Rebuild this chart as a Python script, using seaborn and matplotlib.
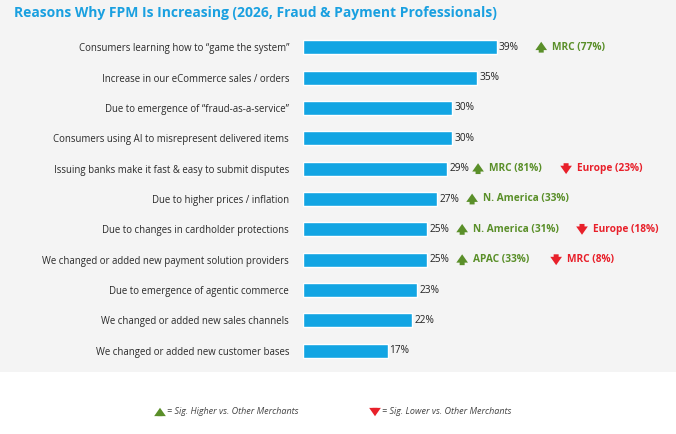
import matplotlib
matplotlib.use("Agg")
import matplotlib.pyplot as plt
import seaborn as sns
import pandas as pd
from matplotlib.patches import Rectangle

reasons = [
    "Consumers learning how to \u201cgame the system\u201d",
    "Increase in our eCommerce sales / orders",
    "Due to emergence of \u201cfraud-as-a-service\u201d",
    "Consumers using AI to misrepresent delivered items",
    "Issuing banks make it fast & easy to submit disputes",
    "Due to higher prices / inflation",
    "Due to changes in cardholder protections",
    "We changed or added new payment solution providers",
    "Due to emergence of agentic commerce",
    "We changed or added new sales channels",
    "We changed or added new customer bases",
]
values = [39, 35, 30, 30, 29, 27, 25, 25, 23, 22, 17]

# significance callouts: (row, direction, text)
sig_rows = [0, 4, 4, 5, 6, 6, 7, 7]
sig_dirs = ["up", "up", "down", "up", "up", "down", "up", "down"]
sig_texts = ["MRC (77%)", "MRC (81%)", "Europe (23%)", "N. America (33%)",
             "N. America (31%)", "Europe (18%)", "APAC (33%)", "MRC (8%)"]
sig_xpos = [47.9, 35.2, 52.9, 34.0, 32.0, 56.1, 32.0, 50.9]

BLUE = "#12a5e3"
GREEN = "#5a8f29"
RED = "#e8202a"
BG = "#f4f4f4"
ARROW = "simple,head_width=0.7,head_length=0.5,tail_width=0.3"

sns.set_theme(style="white")
plt.rcParams["font.family"] = ["Open Sans", "DejaVu Sans"]

fig = plt.figure(figsize=(6.76, 4.34), dpi=100)
fig.patch.set_facecolor("white")
fig.patches.append(Rectangle((0, 1 - 372 / 434), 1, 372 / 434, transform=fig.transFigure,
                             facecolor=BG, edgecolor="none", zorder=-10))

ax = fig.add_axes([303 / 676, 1 - 366 / 434, 1 - 303 / 676, 334 / 434])
ax.set_facecolor("none")
df = pd.DataFrame({"reason": reasons, "value": values})
sns.barplot(data=df, x="value", y="reason", color=BLUE, width=0.46, saturation=1, ax=ax)
ax.set_xlim(0, 75)
ax.set_xlabel("")
ax.set_ylabel("")
ax.set_xticks([])
for s in ax.spines.values():
    s.set_visible(False)
ax.tick_params(axis="y", length=0, pad=10, labelsize=6.9, labelcolor="#2a2a2a")

for i, v in enumerate(values):
    ax.text(v + 0.4, i, f"{v}%", va="center", ha="left", fontsize=7.3, color="#222222")

def arrow(ax, x, y, direction, color):
    dy = 0.27
    if direction == "up":
        head, tail = (x, y - dy), (x, y + dy)
    else:
        head, tail = (x, y + dy), (x, y - dy)
    ax.annotate("", xy=head, xytext=tail,
                arrowprops=dict(arrowstyle=ARROW, color=color, lw=0), annotation_clip=False)

for r, d, t, x in zip(sig_rows, sig_dirs, sig_texts, sig_xpos):
    c = GREEN if d == "up" else RED
    arrow(ax, x, r, d, c)
    ax.text(x + 2.2, r, t, va="center", ha="left", fontsize=7.3, color=c, fontweight="bold")

fig.text(14 / 676, 1 - 13 / 434, "Reasons Why FPM Is Increasing (2026, Fraud & Payment Professionals)",
         fontsize=10, fontweight="bold", color="#1aa0e0", va="center", ha="left")

# legend
lax = fig.add_axes([0, 0, 1, 1], facecolor="none")
lax.set_xlim(0, 676)
lax.set_ylim(434, 0)
lax.axis("off")
for xa, d, c, t in [(160, "up", GREEN, "= Sig. Higher vs. Other Merchants"),
                    (375, "down", RED, "= Sig. Lower vs. Other Merchants")]:
    dy = 7
    head, tail = ((xa, 412 - dy), (xa, 412 + dy)) if d == "up" else ((xa, 412 + dy), (xa, 412 - dy))
    lax.annotate("", xy=head, xytext=tail,
                 arrowprops=dict(arrowstyle=ARROW, color=c, lw=0))
    lax.text(xa + 7, 412, t, fontsize=6.5, style="italic", color="#444444", va="center", ha="left")

fig.savefig("out.png", dpi=100, facecolor=fig.get_facecolor())
